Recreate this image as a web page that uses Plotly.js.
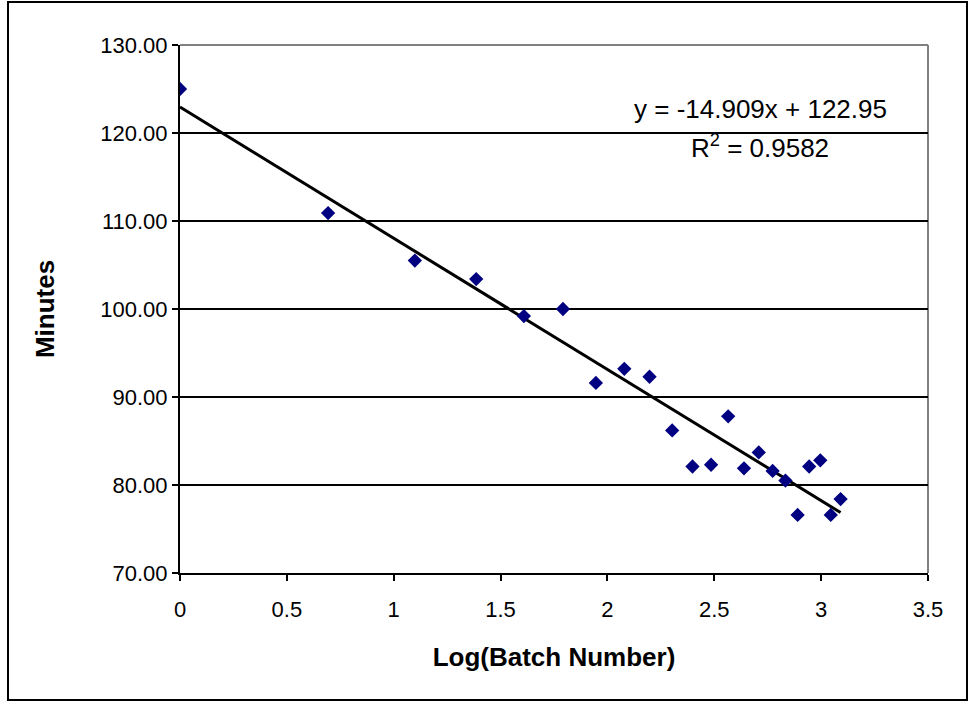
<!DOCTYPE html>
<html>
<head>
<meta charset="utf-8">
<script src="https://cdn.plot.ly/plotly-3.0.1.min.js"></script>
<style>
  html, body { margin: 0; padding: 0; background: #ffffff; }
  #chart { width: 969px; height: 704px; }
</style>
</head>
<body>
<div id="chart"></div>
<script>
// Batch number (1..22) and log of batch number (natural log as plotted)
const batchNumbers = [1, 2, 3, 4, 5, 6, 7, 8, 9, 10, 11, 12, 13, 14, 15, 16, 17, 18, 19, 20, 21, 22];
const logBatch = [0, 0.693, 1.099, 1.386, 1.609, 1.792, 1.946, 2.079, 2.197, 2.303, 2.398, 2.485,
                  2.565, 2.639, 2.708, 2.773, 2.833, 2.890, 2.944, 2.996, 3.045, 3.091];
const minutes = [125.0, 110.9, 105.5, 103.4, 99.2, 100.0, 91.6, 93.2, 92.3, 86.2, 82.1, 82.3,
                 87.8, 81.9, 83.7, 81.6, 80.5, 76.6, 82.1, 82.8, 76.6, 78.4];

// Trendline coefficients as shown on the chart
const trendSlope = -14.909;
const trendIntercept = 122.95;
const trendR2 = 0.9582;

const xTickVals = [0, 0.5, 1, 1.5, 2, 2.5, 3, 3.5];
const xTickText = ["0", "0.5", "1", "1.5", "2", "2.5", "3", "3.5"];
const yTickVals = [70, 80, 90, 100, 110, 120, 130];
const yTickText = ["70.00", "80.00", "90.00", "100.00", "110.00", "120.00", "130.00"];

const xFirst = logBatch[0];
const xLast = logBatch[logBatch.length - 1];
const trendX = [xFirst, xLast];
const trendY = trendX.map(x => trendSlope * x + trendIntercept);

const FONT = "Arial, 'Liberation Sans', sans-serif";

const data = [
  {
    type: "scatter", mode: "lines",
    x: trendX, y: trendY,
    line: { color: "#000000", width: 3 },
    hoverinfo: "skip", showlegend: false
  },
  {
    type: "scatter", mode: "markers",
    x: logBatch, y: minutes,
    marker: { symbol: "diamond", size: 11, color: "#000080", line: { width: 0 } },
    showlegend: false
  }
];

// Plot area (px): x 180..928, y 45..573
const L = 180, R = 928, T = 45, B = 573, W = 969, H = 704;
const px = v => (v - L) / (R - L);
const py = v => (B - v) / (B - T);

const layout = {
  width: W, height: H,
  margin: { l: L, r: W - R, t: T, b: H - B, pad: 0 },
  paper_bgcolor: "#ffffff",
  plot_bgcolor: "#ffffff",
  font: { family: FONT, color: "#000000", size: 22 },
  showlegend: false,
  xaxis: {
    range: [0, 3.5],
    tickvals: xTickVals, ticktext: xTickText,
    ticks: "outside", ticklen: 6, tickwidth: 2, tickcolor: "#000000",
    ticklabelstandoff: 10,
    showline: true, linecolor: "#000000", linewidth: 2,
    showgrid: false, zeroline: false,
    tickfont: { family: FONT, size: 22, color: "#000000" },
    title: { text: "<b>Log(Batch Number)</b>", font: { family: FONT, size: 26, color: "#000000" }, standoff: 26 }
  },
  yaxis: {
    range: [70, 130],
    tickvals: yTickVals, ticktext: yTickText,
    ticks: "outside", ticklen: 6, tickwidth: 2, tickcolor: "#000000",
    showline: true, linecolor: "#000000", linewidth: 2,
    showgrid: true, gridcolor: "#000000", gridwidth: 1.5,
    zeroline: false,
    tickfont: { family: FONT, size: 22, color: "#000000" },
    title: { text: "<b>Minutes</b>", font: { family: FONT, size: 26, color: "#000000" }, standoff: 38 }
  },
  shapes: [
    // gray plot-area border on top and right
    { type: "line", xref: "paper", yref: "paper", x0: 0, x1: 1, y0: 1, y1: 1, line: { color: "#808080", width: 2 }, layer: "below" },
    { type: "line", xref: "paper", yref: "paper", x0: 1, x1: 1, y0: 0, y1: 1, line: { color: "#808080", width: 2 }, layer: "below" },
    // outer chart border
    { type: "rect", xref: "paper", yref: "paper",
      x0: px(8), x1: px(967), y0: py(700), y1: py(2),
      line: { color: "#000000", width: 2 }, fillcolor: "rgba(0,0,0,0)" }
  ],
  annotations: [
    { xref: "paper", yref: "paper", x: px(760), y: py(109), xanchor: "center", yanchor: "middle",
      text: "y = " + trendSlope.toFixed(3) + "x + " + trendIntercept.toFixed(2),
      showarrow: false, font: { family: FONT, size: 26, color: "#000000" } },
    { xref: "paper", yref: "paper", x: px(760), y: py(146), xanchor: "center", yanchor: "middle",
      text: "R<sup>2</sup> = " + trendR2.toFixed(4),
      showarrow: false, font: { family: FONT, size: 26, color: "#000000" } }
  ]
};

Plotly.newPlot("chart", data, layout, { displayModeBar: false, staticPlot: true });
</script>
</body>
</html>
